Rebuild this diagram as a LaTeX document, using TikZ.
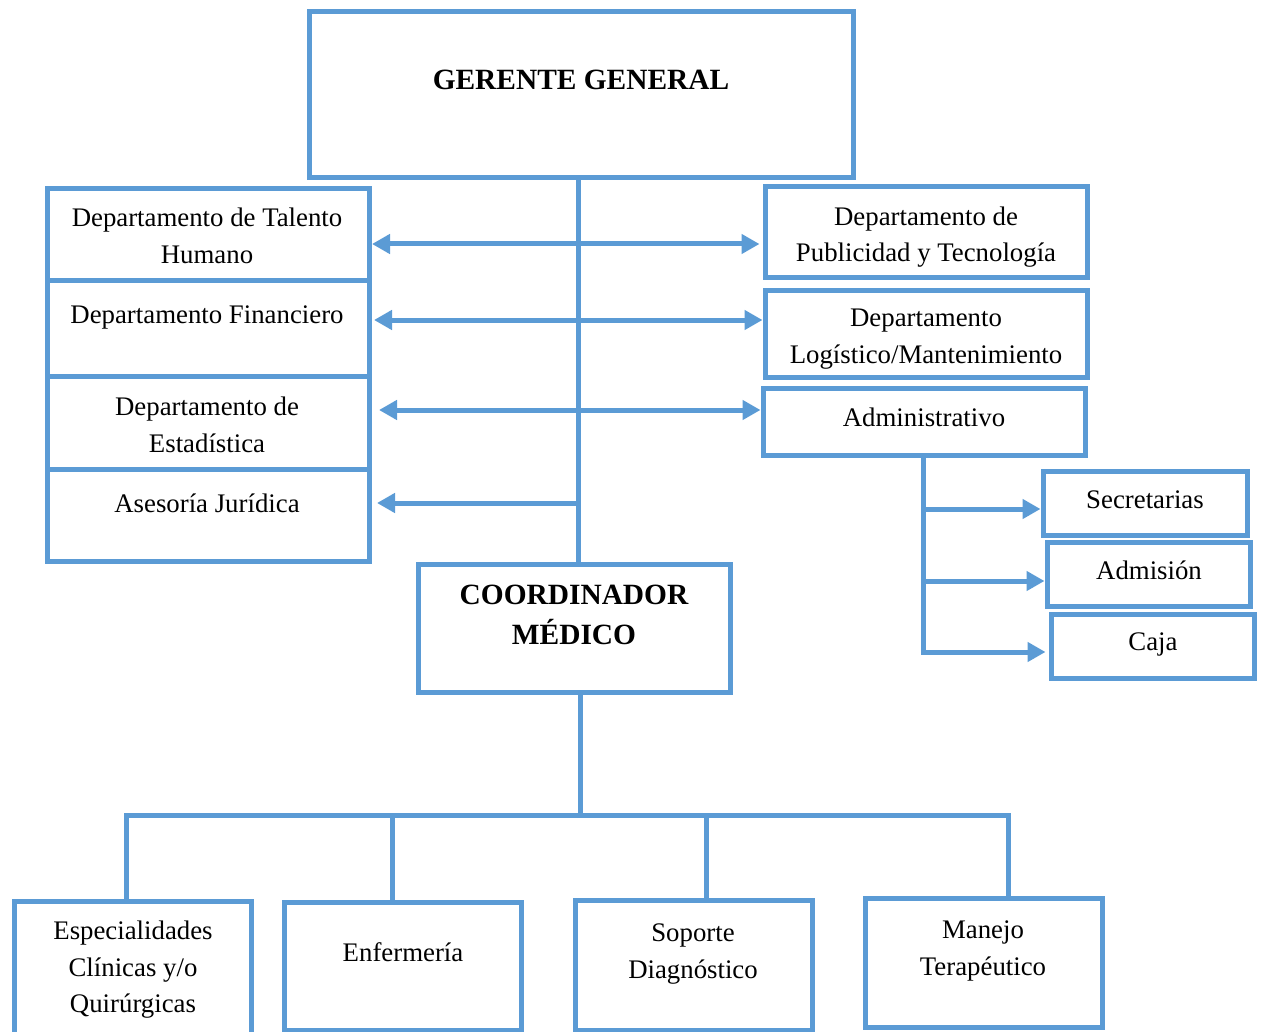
\documentclass[tikz,border=0pt]{standalone}
\usepackage{fontspec}
\setmainfont{Liberation Serif}
\usetikzlibrary{arrows.meta}
\definecolor{boxblue}{RGB}{91,155,213}
\begin{document}
\begin{tikzpicture}[x=1pt,y=-1pt,
  box/.style={draw=boxblue,line width=5pt,rectangle,inner sep=0pt},
  ln/.style={draw=boxblue,line width=5pt},
  ar/.style={ln,-{Triangle[length=18pt,width=19pt]}},
  dar/.style={ln,{Triangle[length=18pt,width=19pt]}-{Triangle[length=18pt,width=19pt]}},
  txt/.style={font=\fontsize{26.8}{36.5}\selectfont,align=center,inner sep=0pt},
  btxt/.style={font=\fontsize{29.4}{40}\selectfont\bfseries,align=center,inner sep=0pt}]
\useasboundingbox (0,0) rectangle (1263,1032);
% boxes
\node[box,minimum width=544,minimum height=166] (gg) at (581,95) {};
\node[box,minimum width=322,minimum height=92] (tal) at (208.5,235) {};
\node[box,minimum width=322,minimum height=95] (fin) at (208.5,328.5) {};
\node[box,minimum width=322,minimum height=93] (est) at (208.5,422.5) {};
\node[box,minimum width=322,minimum height=92] (jur) at (208.5,515) {};
\node[box,minimum width=322,minimum height=91] (pub) at (926,232.5) {};
\node[box,minimum width=322,minimum height=87] (log) at (926,333.5) {};
\node[box,minimum width=322,minimum height=67] (adm) at (924,421.5) {};
\node[box,minimum width=204,minimum height=64] (sec) at (1145,503) {};
\node[box,minimum width=203,minimum height=64] (admi) at (1148.5,574) {};
\node[box,minimum width=203,minimum height=64] (caja) at (1152.5,646) {};
\node[box,minimum width=312,minimum height=128] (coord) at (574,628) {};
\node[box,minimum width=237,minimum height=139] (esp) at (132.5,970.5) {};
\node[box,minimum width=237,minimum height=128] (enf) at (402.5,966) {};
\node[box,minimum width=237,minimum height=130] (sop) at (693.5,965) {};
\node[box,minimum width=237,minimum height=129] (man) at (983.5,962.5) {};
% texts
\node[btxt] (tgg) at (581,80) {GERENTE GENERAL};
\node[txt] (ttal) at (207,236) {Departamento de Talento\\Humano};
\node[txt] (tfin) at (207,317) {Departamento Financiero};
\node[txt] (test) at (207,425) {Departamento de\\Estadística};
\node[txt] (tjur) at (207,503) {Asesoría Jurídica};
\node[txt] (tpub) at (926,237) {Departamento de\\Publicidad y Tecnología};
\node[txt] (tlog) at (926,339) {Departamento\\Logístico/Mantenimiento};
\node[txt] (tadm) at (924,417) {Administrativo};
\node[txt] (tsec) at (1145,500) {Secretarias};
\node[txt] (tadmi) at (1149,570) {Admisión};
\node[txt] (tcaja) at (1153,644) {Caja};
\node[btxt] (tcoord) at (574,615) {COORDINADOR\\MÉDICO};
\node[txt] (tesp) at (133,970) {Especialidades\\Clínicas y/o\\Quirúrgicas};
\node[txt] (tenf) at (403,952) {Enfermería};
\node[txt] (tsop) at (693,954) {Soporte\\Diagnóstico};
\node[txt] (tman) at (983,951) {Manejo\\Terapéutico};
% spine coordinates
\coordinate (sp) at (578,0);
\coordinate (r1) at (578,244);
\coordinate (r2) at (578,320);
\coordinate (r3) at (578,410);
\coordinate (r4) at (578,503);
\draw[ln] (gg.south -| sp) -- (coord.north -| sp);
\draw[dar,shorten >=3pt] (tal.east |- r1) -- (pub.west |- r1);
\draw[dar,shorten <=2pt] (fin.east |- r2) -- (log.west |- r2);
\draw[dar,shorten <=7pt] (est.east |- r3) -- (adm.west |- r3);
\draw[ar,shorten >=5pt] (r4) -- (jur.east |- r4);
% administrativo branch
\coordinate (av) at (923,652);
\coordinate (a1) at (923,509);
\coordinate (a2) at (923,581);
\draw[ar,shorten >=3pt] (adm.south -| av) |- (caja.west |- av);
\draw[ar] (a1) -- (sec.west |- a1);
\draw[ar] (a2) -- (admi.west |- a2);
% coordinador branch
\coordinate (cv) at (580,815);
\coordinate (h1) at (126,815);
\coordinate (h2) at (392,815);
\coordinate (h3) at (706,815);
\coordinate (h4) at (1008,815);
\draw[ln] (coord.south -| cv) -- (cv);
\draw[ln] (esp.north -| h1) -- (h1) -- (h4) -- (man.north -| h4);
\draw[ln] (h2) -- (enf.north -| h2);
\draw[ln] (h3) -- (sop.north -| h3);
\end{tikzpicture}
\end{document}
